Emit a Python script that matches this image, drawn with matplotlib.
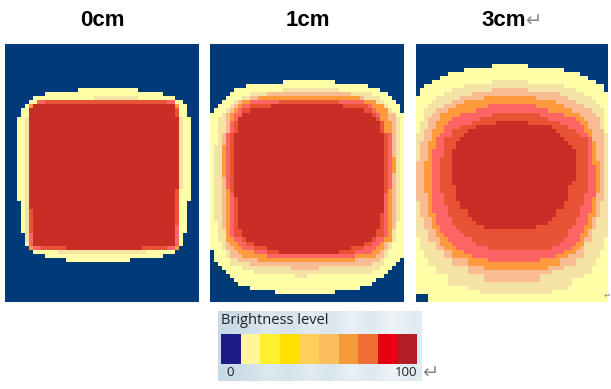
import matplotlib

matplotlib.use('Agg')
import matplotlib.pyplot as plt
import numpy as np
from matplotlib.colors import LinearSegmentedColormap, ListedColormap

W, H = 611, 389
N_ROWS, N_COLS = 64, 48

titles = ['0cm', '1cm', '3cm']
panel_colors = ['#003A78', '#FFFFA8', '#F5E2A5', '#F9BC92', '#FF9A3C', '#FF6464', '#E95335', '#C82D26']

# each band: level -> list of (first row, last row, first col, end col), painted in order
bands_0cm = [
    (1, [(11, 11, 18, 33), (12, 12, 10, 39), (13, 13, 7, 42), (14, 14, 6, 44), (15, 15, 5, 45), (16, 17, 4, 45),
         (18, 38, 3, 46), (39, 46, 4, 45), (47, 49, 5, 44), (50, 50, 6, 43), (51, 51, 7, 42), (52, 52, 10, 39),
         (53, 53, 15, 31)]),
    (2, [(13, 13, 22, 33), (18, 48, 5, 6), (18, 35, 43, 44), (51, 51, 13, 35)]),
    (7, [(15, 50, 6, 43)]),
    (6, [(14, 14, 10, 40), (41, 49, 6, 7), (15, 17, 42, 43), (36, 50, 42, 43), (50, 50, 8, 15), (50, 50, 34, 41)]),
    (5, [(14, 14, 8, 10), (14, 14, 40, 42), (47, 49, 6, 7), (45, 49, 42, 43), (50, 50, 7, 9), (50, 50, 40, 42)]),
    (4, [(15, 15, 6, 7), (15, 15, 42, 43), (50, 50, 6, 7), (50, 50, 42, 43)]),
]

bands_1cm = [
    (1, [(9, 9, 18, 31), (10, 10, 9, 39), (11, 11, 6, 42), (12, 12, 5, 44), (13, 13, 4, 45), (14, 14, 3, 46),
         (15, 15, 2, 47), (16, 16, 1, 47), (17, 50, 0, 48), (51, 52, 1, 48), (53, 53, 1, 47), (54, 54, 2, 46),
         (55, 55, 3, 45), (56, 56, 4, 44), (57, 57, 5, 43), (58, 58, 6, 41), (59, 59, 7, 40), (60, 60, 10, 37),
         (61, 61, 16, 31)]),
    (2, [(11, 11, 18, 32), (12, 12, 10, 40), (13, 13, 8, 42), (14, 14, 6, 43), (15, 15, 5, 44), (16, 16, 4, 45),
         (17, 17, 3, 46), (18, 24, 2, 47), (25, 43, 1, 47), (44, 48, 2, 46), (49, 50, 3, 45), (51, 52, 4, 44),
         (53, 54, 5, 43), (55, 55, 8, 42), (56, 56, 11, 40), (57, 57, 21, 24)]),
    (3, [(12, 12, 14, 35), (13, 13, 10, 38), (14, 14, 7, 41), (15, 15, 6, 43), (16, 16, 5, 44), (17, 21, 4, 46),
         (22, 45, 3, 46), (46, 50, 4, 44), (51, 52, 5, 43), (53, 53, 7, 42), (54, 54, 10, 40), (55, 55, 20, 26),
         (55, 55, 26, 27)]),
    (4, [(13, 13, 12, 37), (14, 14, 8, 41), (15, 15, 7, 43), (16, 16, 6, 44), (17, 18, 5, 44), (19, 24, 5, 45),
         (25, 27, 3, 45), (28, 31, 3, 46), (32, 32, 3, 45), (33, 48, 4, 45), (49, 49, 5, 43), (50, 50, 6, 43),
         (51, 51, 7, 42), (52, 52, 8, 41), (53, 53, 12, 36)]),
    (5, [(14, 14, 10, 38), (15, 15, 8, 40), (16, 16, 7, 41), (17, 18, 6, 42), (19, 21, 5, 43), (22, 35, 4, 45),
         (36, 47, 5, 44), (48, 48, 6, 43), (49, 49, 7, 42), (50, 50, 8, 41), (51, 51, 11, 40), (52, 52, 14, 36)]),
    (6, [(14, 14, 17, 32), (15, 15, 10, 39), (16, 16, 8, 40), (17, 17, 8, 41), (18, 18, 7, 42), (19, 21, 6, 43),
         (22, 36, 5, 44), (37, 47, 6, 43), (48, 48, 8, 41), (49, 49, 9, 40), (50, 50, 11, 38), (51, 51, 14, 36)]),
    (7, [(15, 15, 15, 33), (16, 16, 10, 38), (17, 17, 8, 40), (18, 18, 7, 41), (19, 21, 7, 42), (22, 37, 6, 43),
         (38, 41, 7, 43), (42, 45, 7, 42), (46, 47, 8, 41), (48, 48, 9, 40), (49, 49, 11, 38), (50, 50, 14, 35),
         (51, 51, 17, 32)]),
]

bands_3cm = [
    (1, [(5, 5, 19, 28), (6, 6, 12, 37), (7, 7, 8, 41), (8, 8, 6, 43), (9, 9, 4, 45), (10, 10, 2, 47),
         (11, 11, 1, 47), (12, 12, 1, 48), (13, 61, 0, 48), (62, 63, 3, 48)]),
    (2, [(9, 9, 19, 28), (10, 10, 12, 37), (11, 11, 9, 40), (12, 12, 7, 42), (13, 13, 5, 44), (14, 14, 4, 45),
         (15, 15, 3, 46), (16, 18, 2, 47), (19, 21, 1, 47), (22, 47, 0, 48), (48, 50, 1, 47), (51, 52, 2, 46),
         (53, 54, 3, 45), (55, 56, 5, 44), (57, 57, 8, 42), (58, 59, 8, 39), (60, 60, 13, 38), (61, 61, 16, 34)]),
    (3, [(11, 11, 19, 28), (12, 12, 14, 36), (13, 13, 11, 38), (14, 14, 9, 40), (15, 15, 7, 42), (16, 16, 5, 44),
         (17, 17, 4, 45), (18, 20, 3, 46), (21, 23, 2, 47), (24, 28, 1, 47), (29, 38, 0, 47), (39, 42, 1, 46),
         (43, 45, 2, 45), (46, 48, 3, 44), (49, 50, 5, 42), (51, 52, 7, 42), (53, 54, 9, 40), (55, 55, 13, 37),
         (56, 56, 13, 34), (57, 58, 17, 31)]),
    (4, [(13, 13, 17, 30), (14, 14, 12, 35), (15, 15, 10, 37), (16, 16, 8, 39), (17, 17, 6, 41), (18, 18, 6, 42),
         (19, 20, 5, 43), (21, 23, 4, 44), (24, 28, 3, 45), (29, 36, 2, 46), (37, 42, 3, 45), (43, 45, 4, 44),
         (46, 47, 5, 43), (48, 49, 6, 42), (50, 50, 7, 41), (51, 51, 9, 40), (52, 52, 9, 38), (53, 54, 13, 36),
         (55, 55, 17, 33)]),
    (5, [(15, 15, 18, 30), (16, 16, 15, 33), (17, 17, 11, 37), (18, 18, 9, 40), (19, 19, 8, 41), (20, 21, 7, 42),
         (22, 22, 6, 43), (23, 25, 5, 44), (26, 29, 4, 44), (30, 37, 4, 45), (38, 41, 4, 44), (42, 44, 5, 43),
         (45, 46, 6, 42), (47, 47, 7, 41), (48, 48, 8, 41), (49, 49, 9, 40), (50, 50, 10, 39), (51, 51, 12, 37),
         (52, 52, 14, 35), (53, 53, 18, 31)]),
    (6, [(17, 17, 19, 31), (18, 18, 16, 33), (19, 19, 14, 36), (20, 20, 11, 38), (21, 21, 9, 40), (22, 22, 9, 41),
         (23, 27, 7, 43), (28, 36, 6, 43), (37, 39, 7, 42), (40, 42, 8, 41), (43, 44, 9, 40), (45, 45, 10, 39),
         (46, 46, 11, 38), (47, 47, 12, 38), (48, 48, 14, 37), (49, 49, 15, 36), (50, 50, 18, 34)]),
    (7, [(19, 19, 20, 28), (20, 20, 15, 34), (21, 21, 13, 35), (22, 22, 12, 36), (23, 23, 11, 37), (24, 24, 10, 38),
         (25, 25, 10, 39), (26, 33, 9, 40), (34, 34, 9, 39), (35, 38, 10, 38), (39, 40, 11, 37), (41, 42, 13, 35),
         (43, 43, 14, 34), (44, 44, 15, 33), (45, 45, 17, 30)]),
]

legend_colors = ['#1B1C84', '#FFF59B', '#FFF02E', '#FFE000', '#FFCF5A', '#FBBD5D', '#F39A39', '#EE6E33', '#E60012',
                 '#B11E23']
legend_levels = [0, 1, 2, 3, 4, 5, 6, 7, 8, 9]
legend_shades = [0.10, 0.25, 0.55, 0.35, 0.65, 0.45, 0.80, 0.55, 0.90, 0.65]


def px_axes(fig, x0, y0, x1, y1):
    return fig.add_axes([x0 / W, 1 - y1 / H, (x1 - x0) / W, (y1 - y0) / H])


def build_grid(bands):
    grid = np.zeros((N_ROWS, N_COLS), dtype=int)
    for level, spans in bands:
        for r0, r1, c0, c1 in spans:
            grid[r0:r1 + 1, c0:c1] = level
    return grid


fig = plt.figure(figsize=(W / 100, H / 100), dpi=100)
panel_cmap = ListedColormap(panel_colors)
boxes = [(5, 198), (210, 404), (416, 608)]
centers = [102, 308, 504]

for (x0, x1), cx, title, bands in zip(boxes, centers, titles, [bands_0cm, bands_1cm, bands_3cm]):
    ax = px_axes(fig, x0, 44, x1, 302)
    ax.imshow(build_grid(bands), cmap=panel_cmap, vmin=0, vmax=7, aspect='auto', interpolation='nearest')
    ax.axis('off')
    fig.text(cx / W, 1 - 20 / H, title, ha='center', va='center', fontsize=16, fontweight='bold',
             family=['Liberation Sans', 'DejaVu Sans'])

fig.text(533 / W, 1 - 21 / H, '\u21b5', ha='center', va='center', fontsize=14, color='#888888', family='DejaVu Sans')
fig.text(430 / W, 1 - 373 / H, '\u21b5', ha='center', va='center', fontsize=14, color='#888888', family='DejaVu Sans')
fig.text(607 / W, 1 - 295 / H, '\u21b5', ha='center', va='center', fontsize=6, color='#888888', family='DejaVu Sans')

# legend plate
plate_cmap = LinearSegmentedColormap.from_list('plate', ['#C4D8E5', '#F2F6F9'])
lax = px_axes(fig, 218, 311, 422, 381)
lax.imshow(np.array(legend_shades).reshape(1, -1), cmap=plate_cmap, vmin=0, vmax=1, aspect='auto',
           interpolation='bilinear')
lax.axis('off')

sax = px_axes(fig, 221, 334, 416, 364)
sax.imshow(np.array(legend_levels).reshape(1, -1), cmap=ListedColormap(legend_colors), aspect='auto',
           interpolation='nearest')
sax.axis('off')

fig.text(221 / W, 1 - 321 / H, 'Brightness level', ha='left', va='center', fontsize=10.5, color='#222222',
         family='Open Sans')
fig.text(230 / W, 1 - 373 / H, '0', ha='center', va='center', fontsize=9.5, color='#222222', family='Open Sans')
fig.text(406 / W, 1 - 373 / H, '100', ha='center', va='center', fontsize=9.5, color='#222222', family='Open Sans')

plt.savefig('out.png', dpi=100)
